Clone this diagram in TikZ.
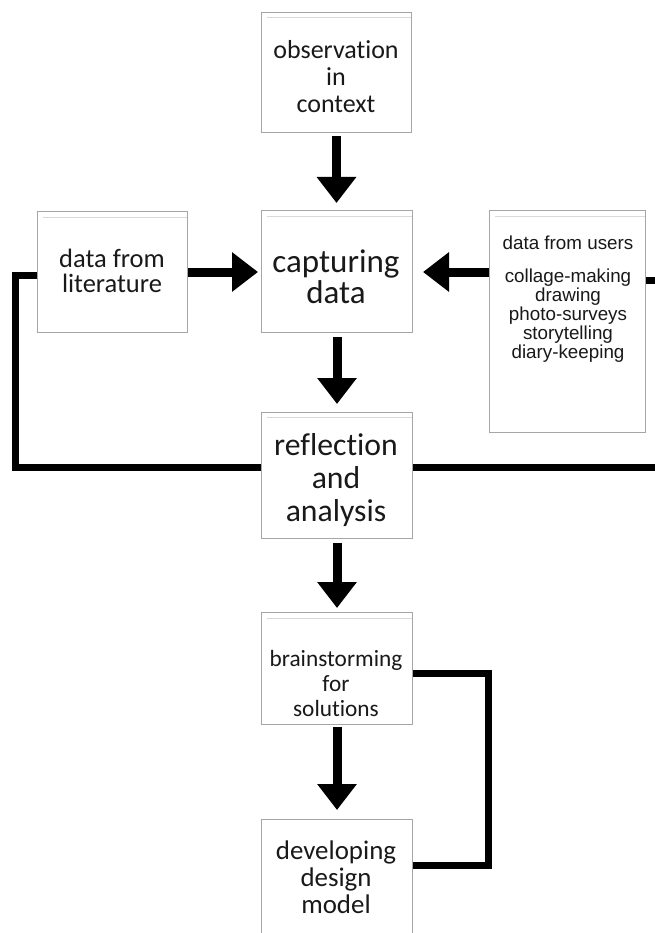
\documentclass[tikz,border=0pt]{standalone}
\usepackage{fontspec}
\setmainfont{Carlito}[Ligatures=NoCommon]
\newfontfamily\arialfont{Liberation Sans}
\usetikzlibrary{arrows.meta}
\tikzset{
  box/.style={draw=gray!70, line width=1pt, fill=white, inner sep=0pt},
  innerline/.style={draw=gray!30, line width=0.8pt},
  txt/.style={align=center, inner sep=0pt, text=black!90},
  bigarrow/.style={line width=9pt, -{Triangle[width=38pt,length=26pt]}},
  fbline/.style={line width=7pt}
}
\begin{document}
\begin{tikzpicture}[x=1pt,y=-1pt]
\useasboundingbox (0,0) rectangle (654,933);
% boxes
\node[box, minimum width=150pt, minimum height=120pt, anchor=north west] (obs) at (261,12) {};
\node[box, minimum width=151pt, minimum height=122pt, anchor=north west] (cap) at (261,210) {};
\node[box, minimum width=150pt, minimum height=121pt, anchor=north west] (lit) at (37,211) {};
\node[box, minimum width=156pt, minimum height=222pt, anchor=north west] (usr) at (489,210) {};
\node[box, minimum width=151pt, minimum height=126pt, anchor=north west] (ref) at (261,412) {};
\node[box, minimum width=151pt, minimum height=112pt, anchor=north west] (brn) at (261,612) {};
\node[box, minimum width=151pt, minimum height=125pt, anchor=north west] (dev) at (261,819) {};
% inner light top lines
\draw[innerline] ([shift={(6,5)}]obs.north west) -- ([shift={(-1,5)}]obs.north east);
\draw[innerline] ([shift={(6,6)}]cap.north west) -- ([shift={(-1,6)}]cap.north east);
\draw[innerline] ([shift={(6,6)}]lit.north west) -- ([shift={(-1,6)}]lit.north east);
\draw[innerline] ([shift={(6,6)}]usr.north west) -- ([shift={(-1,6)}]usr.north east);
\draw[innerline] ([shift={(6,5)}]ref.north west) -- ([shift={(-1,5)}]ref.north east);
\draw[innerline] ([shift={(6,6)}]brn.north west) -- ([shift={(-1,6)}]brn.north east);
% texts
\node[txt, font=\fontsize{26}{27}\selectfont] (tobs) at (336,77) {observation\\in\\context};
\node[txt, font=\fontsize{33}{31}\selectfont] (tcap) at (336,277) {capturing\\data};
\node[txt, font=\fontsize{26.5}{25}\selectfont] (tlit) at (112,271) {data from\\literature};
\node[txt, font=\arialfont\fontsize{18.8}{19}\selectfont, anchor=north] (tusr) at (568,236) {data from users\\[14pt]collage-making\\drawing\\photo-surveys\\storytelling\\diary-keeping};
\node[txt, font=\fontsize{31.7}{33}\selectfont] (tref) at (336,480) {reflection\\and\\analysis};
\node[txt, font=\fontsize{23.3}{25}\selectfont] (tbrn) at (336,683) {brainstorming\\for\\solutions};
\node[txt, font=\fontsize{26.9}{27}\selectfont] (tdev) at (336,877) {developing\\design\\model};
% arrows
\draw[bigarrow] (obs.south |- 0,136) -- (obs.south |- 0,203);
\draw[bigarrow] (cap.south |- 0,337) -- (cap.south |- 0,404);
\draw[bigarrow] (ref.south |- 0,543) -- (ref.south |- 0,608);
\draw[bigarrow] (brn.south |- 0,727) -- (brn.south |- 0,810);
\draw[bigarrow] (lit.east |- 193,272) -- (258,272);
\draw[bigarrow] (usr.west |- 490,272) -- (423,272);
% feedback lines
\coordinate (lcorner1) at (15,275);
\coordinate (lcorner2) at (15,467);
\draw[fbline] (lit.west |- 0,275) -- (lcorner1) -- (lcorner2) -- (ref.west |- 0,467);
\coordinate (rend1) at (660,467);
\coordinate (rend2) at (660,280);
\draw[fbline] (ref.east |- 0,467) -- (rend1);
\draw[fbline] (usr.east |- 0,280) -- (rend2);
\coordinate (bcorner1) at (488,673);
\coordinate (bcorner2) at (488,865);
\draw[fbline] (brn.east |- 0,673) -- (bcorner1) -- (bcorner2) -- (dev.east |- 0,865);
\end{tikzpicture}
\end{document}
